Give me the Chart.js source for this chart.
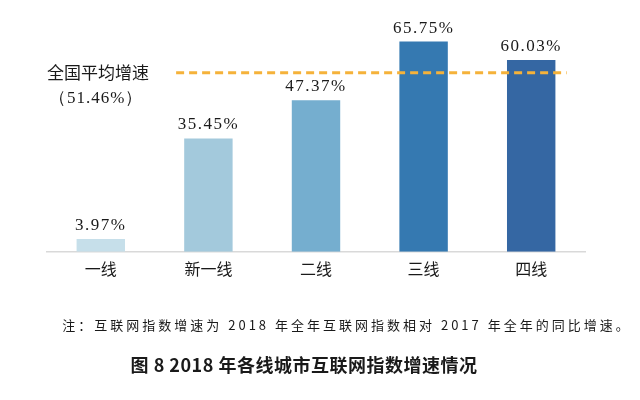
<!DOCTYPE html>
<html>
<head>
<meta charset="utf-8">
<script src="https://cdn.jsdelivr.net/npm/chart.js@4/dist/chart.umd.min.js"></script>
<style>
html,body{margin:0;padding:0;background:#fff;}
#wrap{width:640px;height:400px;}
</style>
</head>
<body>
<div id="wrap"><canvas id="barChart"></canvas></div>
<script>
var cities=["一线","新一线","二线","三线","四线"];
var growth=[3.97,35.45,47.37,65.75,60.03];
var barColors=["#c6dfea","#a3c9dc","#75aecf","#3579b1","#3567a3"];
var avgName="全国平均增速";
var avgText="（51.46%）";
var avgLevel=56;     // where the dashed line sits in the picture
var avgFrom=0.7, avgTo=4.33;   // category positions the line spans
var noteText="注：互联网指数增速为 2018 年全年互联网指数相对 2017 年全年的同比增速。";
var titleText="图 8 2018 年各线城市互联网指数增速情况";

var serif="'Liberation Serif','DejaVu Serif',serif";
var cjk="'Noto Sans CJK SC','Noto Sans',sans-serif";

var extras={
	id:"extras",
	afterDatasetsDraw:function(chart){
		var ctx=chart.ctx;
		var x=chart.scales.x, y=chart.scales.y;
		ctx.save();
		// value labels
		ctx.fillStyle="#1a1a1a";
		ctx.font="17px "+serif;
		ctx.letterSpacing="1.5px";
		ctx.textAlign="center";
		ctx.textBaseline="bottom";
		chart.getDatasetMeta(0).data.forEach(function(bar,i){
			ctx.fillText(growth[i].toFixed(2)+"%",bar.x,bar.y-5);
		});
		// average dashed line
		var ly=y.getPixelForValue(avgLevel);
		ctx.strokeStyle="#f5b23a";
		ctx.lineWidth=3;
		ctx.setLineDash([8,5]);
		ctx.beginPath();
		ctx.moveTo(x.getPixelForValue(avgFrom),ly);
		ctx.lineTo(x.getPixelForValue(avgTo),ly);
		ctx.stroke();
		ctx.setLineDash([]);
		// average label
		ctx.fillStyle="#1a1a1a";
		ctx.textAlign="left";
		ctx.textBaseline="middle";
		ctx.letterSpacing="0px";
		ctx.font="17px "+cjk;
		ctx.fillText(avgName,chart.chartArea.left,ly);
		ctx.font="17px "+serif;
		ctx.letterSpacing="1px";
		ctx.fillText(avgText,chart.chartArea.left+2,ly+26);
		// note + title
		ctx.textAlign="center";
		ctx.font="13px "+cjk;
		ctx.letterSpacing="3px";
		ctx.fillText(noteText,347,325);
		ctx.font="bold 18px "+cjk;
		ctx.letterSpacing="0.5px";
		ctx.fillText(titleText,304,365);
		ctx.restore();
	}
};

new Chart(document.getElementById("barChart"),{
	type:"bar",
	data:{
		labels:cities,
		datasets:[{
			data:growth,
			backgroundColor:barColors,
			barPercentage:0.45,
			categoryPercentage:1
		}]
	},
	options:{
		responsive:true,
		maintainAspectRatio:false,
		animation:false,
		layout:{padding:{left:47,right:55,top:28,bottom:113}},
		plugins:{legend:{display:false},tooltip:{enabled:false}},
		scales:{
			x:{
				grid:{display:false,drawTicks:false},
				border:{display:true,color:"#d9d9d9",width:1.5},
				ticks:{color:"#1a1a1a",font:{size:16,family:cjk},padding:8}
			},
			y:{
				display:false,
				min:0,
				max:70
			}
		}
	},
	plugins:[extras]
});
</script>
</body>
</html>
